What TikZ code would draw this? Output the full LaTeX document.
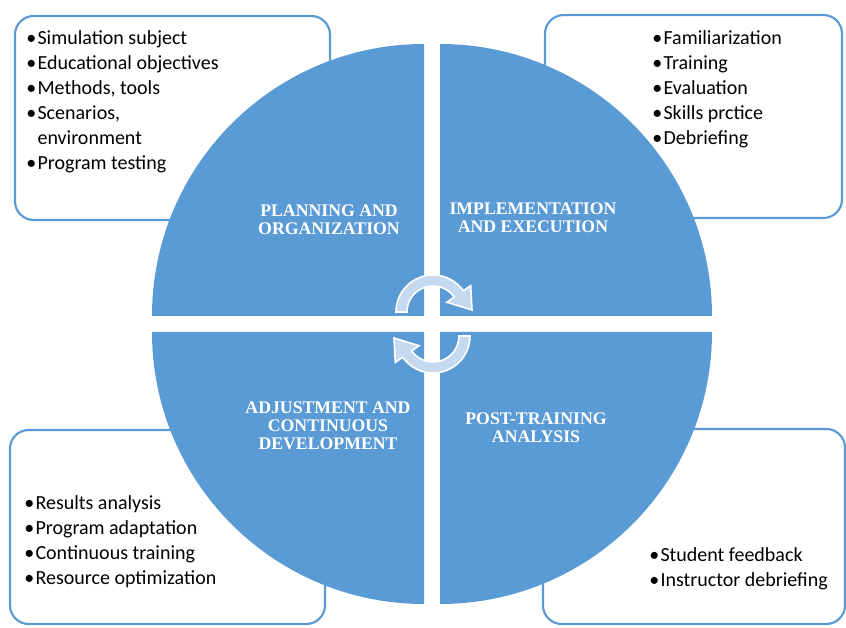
\documentclass[tikz,border=0pt]{standalone}
\usepackage{fontspec}
\setmainfont{Carlito}
\newfontfamily\headfont{Liberation Serif}
\definecolor{cycleblue}{HTML}{5B9BD5}
\definecolor{arrowblue}{HTML}{C5D9F0}
\tikzset{
  infobox/.style={draw=cycleblue, line width=1.6pt, fill=white, rounded corners=14pt},
  quarter/.style={fill=cycleblue},
  phase/.style={font=\headfont\bfseries\fontsize{13.3}{13.5}\selectfont, text=white, align=center},
  items/.style={font=\fontsize{15}{18.75}\selectfont, align=left, anchor=north west, inner sep=0pt},
  turn/.style={fill=arrowblue, draw=white, line width=1.2pt}
}
\newcommand{\bul}{\textbullet\hspace{1pt}}
\newcommand{\nobul}{\phantom{\textbullet}\hspace{1pt}}

\begin{document}
\begin{tikzpicture}[x=0.75pt,y=0.75pt]
  \useasboundingbox (0,0) rectangle (846,628);

  % side boxes, behind the wheel
  \draw[infobox] (15,612) rectangle (330,408);
  \draw[infobox] (545,613) rectangle (842,410);
  \draw[infobox] (10,198) rectangle (325,4);
  \draw[infobox] (543,199) rectangle (845,4);

  % the four quarters of the wheel
  \foreach \cx/\cy/\a in {424/312/90, 440/312/0, 424/296/180, 440/296/270}
    \fill[quarter] (\cx,\cy) -- ++(\a:272) arc[start angle=\a, end angle=\a+90, radius=272] -- cycle;

  % phase names
  \node[phase] (plan) at (329,408) {PLANNING AND\\ORGANIZATION};
  \node[phase] (impl) at (533,410) {IMPLEMENTATION\\AND EXECUTION};
  \node[phase] (adjust) at (328,202) {ADJUSTMENT AND\\CONTINUOUS\\DEVELOPMENT};
  \node[phase] (post) at (536,200) {POST-TRAINING\\ANALYSIS};

  % bullet lists
  \node[items] (planlist) at (26,598) {\bul Simulation subject\\ \bul Educational objectives\\
    \bul Methods, tools\\ \bul Scenarios,\\ \nobul environment\\ \bul Program testing};
  \node[items] (impllist) at (652,598) {\bul Familiarization\\ \bul Training\\ \bul Evaluation\\
    \bul Skills prctice\\ \bul Debriefing};
  \node[items] (adjustlist) at (24,133) {\bul Results analysis\\ \bul Program adaptation\\
    \bul Continuous training\\ \bul Resource optimization};
  \node[items] (postlist) at (649,81) {\bul Student feedback\\ \bul Instructor debriefing};

  % circular arrows in the middle
  \begin{scope}[shift={(433,316)}]
    \filldraw[turn] (180:37) arc[start angle=180, end angle=35, radius=37] -- (35:46) -- (39,2)
      -- (35:17) -- (35:26) arc[start angle=35, end angle=180, radius=26] -- cycle;
  \end{scope}
  \begin{scope}[shift={(433,292)}, rotate=180]
    \filldraw[turn] (180:37) arc[start angle=180, end angle=35, radius=37] -- (35:46) -- (39,2)
      -- (35:17) -- (35:26) arc[start angle=35, end angle=180, radius=26] -- cycle;
  \end{scope}
\end{tikzpicture}
\end{document}
